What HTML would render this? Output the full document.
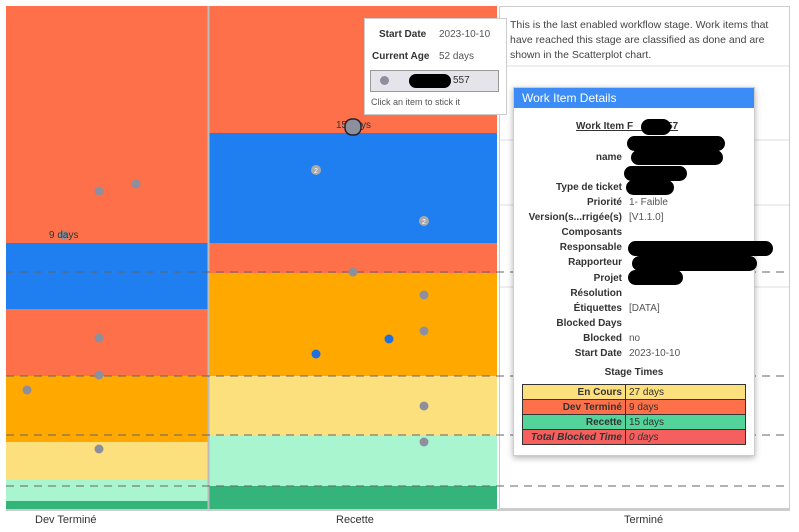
<!DOCTYPE html>
<html><head><meta charset="utf-8"><style>
body{margin:0;width:799px;height:532px;background:#fff;font-family:"Liberation Sans",sans-serif;overflow:hidden;position:relative}
.abs{position:absolute}
.lbl{font-size:11px;color:#333}
.pop{left:513px;top:87px;width:240px;height:367px;background:#fff;border:1px solid #ccc;box-shadow:0 2px 6px rgba(0,0,0,.3);font-size:10px;color:#333}
.row{position:absolute;left:0;width:240px;height:15px}
.row b{position:absolute;right:132px;text-align:right;white-space:nowrap}
.row span{position:absolute;left:115px;white-space:nowrap;color:#555}
.blk{position:absolute;background:#000;border-radius:8px}
table{border-collapse:collapse;font-size:10px}
td{border:1px solid #333;height:14px;padding:0 3px}
</style></head><body>
<svg class="abs" style="left:0;top:0" width="799" height="532">
<!-- col1 -->
<rect x="6" y="6" width="202" height="237" fill="#fe7049"/>
<rect x="6" y="243" width="202" height="66" fill="#1f7ff0"/>
<rect x="6" y="309" width="202" height="67" fill="#fe7049"/>
<rect x="6" y="376" width="202" height="66" fill="#ffa800"/>
<rect x="6" y="442" width="202" height="38" fill="#fde07e"/>
<rect x="6" y="480" width="202" height="21" fill="#a9f5cf"/>
<rect x="6" y="501" width="202" height="8" fill="#34b37b"/>
<!-- col2 -->
<rect x="209" y="6" width="288" height="127" fill="#fe7049"/>
<rect x="209" y="133" width="288" height="110" fill="#1f7ff0"/>
<rect x="209" y="243" width="288" height="30" fill="#fe7049"/>
<rect x="209" y="273" width="288" height="103" fill="#ffa800"/>
<rect x="209" y="376" width="288" height="59" fill="#fde07e"/>
<rect x="209" y="435" width="288" height="51" fill="#a9f5cf"/>
<rect x="209" y="486" width="288" height="23" fill="#34b37b"/>
<line x1="208.5" y1="6" x2="208.5" y2="509" stroke="#bbb" stroke-width="2"/>
<rect x="499.5" y="6.5" width="290" height="502" fill="#fff" stroke="#ccc"/>
<line x1="500" y1="66" x2="789" y2="66" stroke="#ddd"/>
<line x1="500" y1="140" x2="789" y2="140" stroke="#ddd"/>
<line x1="500" y1="205" x2="789" y2="205" stroke="#ddd"/>
<line x1="500" y1="287" x2="789" y2="287" stroke="#ddd"/>
<g stroke="#666" stroke-dasharray="8,6" stroke-width="1">
<line x1="6" y1="272" x2="789" y2="272"/><line x1="6" y1="376" x2="789" y2="376"/>
<line x1="6" y1="435" x2="789" y2="435"/><line x1="6" y1="486" x2="789" y2="486"/>
</g>
<line x1="6" y1="510" x2="790" y2="510" stroke="#999"/>
<g fill="#8d8f9c">
<circle cx="99" cy="191" r="4.5"/><circle cx="136" cy="184" r="4.5"/><circle cx="64" cy="235" r="4.5"/>
<circle cx="99" cy="338" r="4.5"/><circle cx="99" cy="375" r="4.5"/><circle cx="27" cy="390" r="4.5"/><circle cx="99" cy="449" r="4.5"/>
<circle cx="353" cy="272" r="4.5"/><circle cx="424" cy="295" r="4.5"/><circle cx="424" cy="331" r="4.5"/>
<circle cx="424" cy="406" r="4.5"/><circle cx="424" cy="442" r="4.5"/>
<circle cx="316" cy="170" r="5" fill="#aaa"/><circle cx="424" cy="221" r="5" fill="#aaa"/>
</g>
<text x="316" y="173" font-size="7" fill="#fff" text-anchor="middle">2</text>
<text x="424" y="224" font-size="7" fill="#fff" text-anchor="middle">2</text>
<circle cx="316" cy="354" r="4.5" fill="#1f6fe0"/><circle cx="389" cy="339" r="4.5" fill="#1f6fe0"/>
<text x="49" y="238" font-size="10" fill="#333">9 days</text>
<text x="336" y="128" font-size="10" fill="#333">15 days</text>
<rect x="345" y="119" width="16" height="16" rx="7" fill="#8d8f9c" stroke="#223" stroke-width="1.5"/>
</svg>
<div class="abs lbl" style="left:35px;top:514px">Dev Terminé</div>
<div class="abs lbl" style="left:336px;top:514px">Recette</div>
<div class="abs lbl" style="left:624px;top:514px">Terminé</div>
<div class="abs" style="left:510px;top:18px;width:275px;font-size:10.5px;line-height:15px;color:#444">This is the last enabled workflow stage. Work items that have reached this stage are classified as done and are shown in the Scatterplot chart.</div>
<div class="abs" style="left:364px;top:18px;width:141px;height:95px;background:#fff;border:1px solid #ccc;font-size:10px;color:#333">
<b class="abs" style="left:14px;top:10px">Start Date</b><span class="abs" style="left:74px;top:10px;color:#555">2023-10-10</span>
<b class="abs" style="left:7px;top:32px">Current Age</b><span class="abs" style="left:74px;top:32px;color:#555">52 days</span>
<div class="abs" style="left:5px;top:51px;width:127px;height:20px;background:#e4e4ea;border:1px solid #999"></div>
<div class="abs" style="left:15px;top:57px;width:9px;height:9px;border-radius:5px;background:#8d8f9c"></div>
<div class="blk" style="left:44px;top:55px;width:42px;height:14px"></div>
<span class="abs" style="left:88px;top:56px">557</span>
<span class="abs" style="left:6px;top:78px;font-size:9px;color:#555">Click an item to stick it</span>
</div>
<div class="abs pop">
<div style="background:#3b8cf6;color:#fff;height:20px;line-height:20px;padding-left:8px;font-size:12px">Work Item Details</div>
<div class="abs" style="left:62px;top:33px;font-weight:bold;text-decoration:underline">Work Item F&nbsp;&nbsp;&nbsp;&nbsp;&nbsp;&nbsp;&nbsp;&nbsp;&nbsp;-557</div>
<div class="blk" style="left:127px;top:31px;width:30px;height:16px"></div>
<div class="blk" style="left:113px;top:48px;width:98px;height:15px"></div>
<div class="blk" style="left:117px;top:62px;width:92px;height:15px"></div>
<div class="blk" style="left:110px;top:78px;width:63px;height:15px"></div>
<div class="blk" style="left:112px;top:92px;width:48px;height:15px"></div>
<div class="blk" style="left:114px;top:153px;width:145px;height:15px"></div>
<div class="blk" style="left:118px;top:168px;width:125px;height:15px"></div>
<div class="blk" style="left:114px;top:182px;width:55px;height:15px"></div>
<div class="row" style="top:64px"><b>name</b></div>
<div class="row" style="top:94px"><b>Type de ticket</b></div>
<div class="row" style="top:109px"><b>Priorité</b><span>1- Faible</span></div>
<div class="row" style="top:124px"><b>Version(s...rrigée(s)</b><span>[V1.1.0]</span></div>
<div class="row" style="top:139px"><b>Composants</b></div>
<div class="row" style="top:154px"><b>Responsable</b></div>
<div class="row" style="top:169px"><b>Rapporteur</b></div>
<div class="row" style="top:185px"><b>Projet</b></div>
<div class="row" style="top:200px"><b>Résolution</b></div>
<div class="row" style="top:215px"><b>Étiquettes</b><span>[DATA]</span></div>
<div class="row" style="top:230px"><b>Blocked Days</b></div>
<div class="row" style="top:245px"><b>Blocked</b><span>no</span></div>
<div class="row" style="top:260px"><b>Start Date</b><span>2023-10-10</span></div>
<div class="abs" style="left:0;width:240px;top:279px;text-align:center;font-weight:bold">Stage Times</div>
<table class="abs" style="left:8px;top:296px;width:224px">
<tr style="background:#fde07e"><td style="text-align:right;width:96px"><b>En Cours</b></td><td>27 days</td></tr>
<tr style="background:#fe7049"><td style="text-align:right"><b>Dev Terminé</b></td><td>9 days</td></tr>
<tr style="background:#52d49a"><td style="text-align:right"><b>Recette</b></td><td>15 days</td></tr>
<tr style="background:#f5605e"><td style="text-align:right"><b><i>Total Blocked Time</i></b></td><td><i>0 days</i></td></tr>
</table>
</div>
</body></html>
